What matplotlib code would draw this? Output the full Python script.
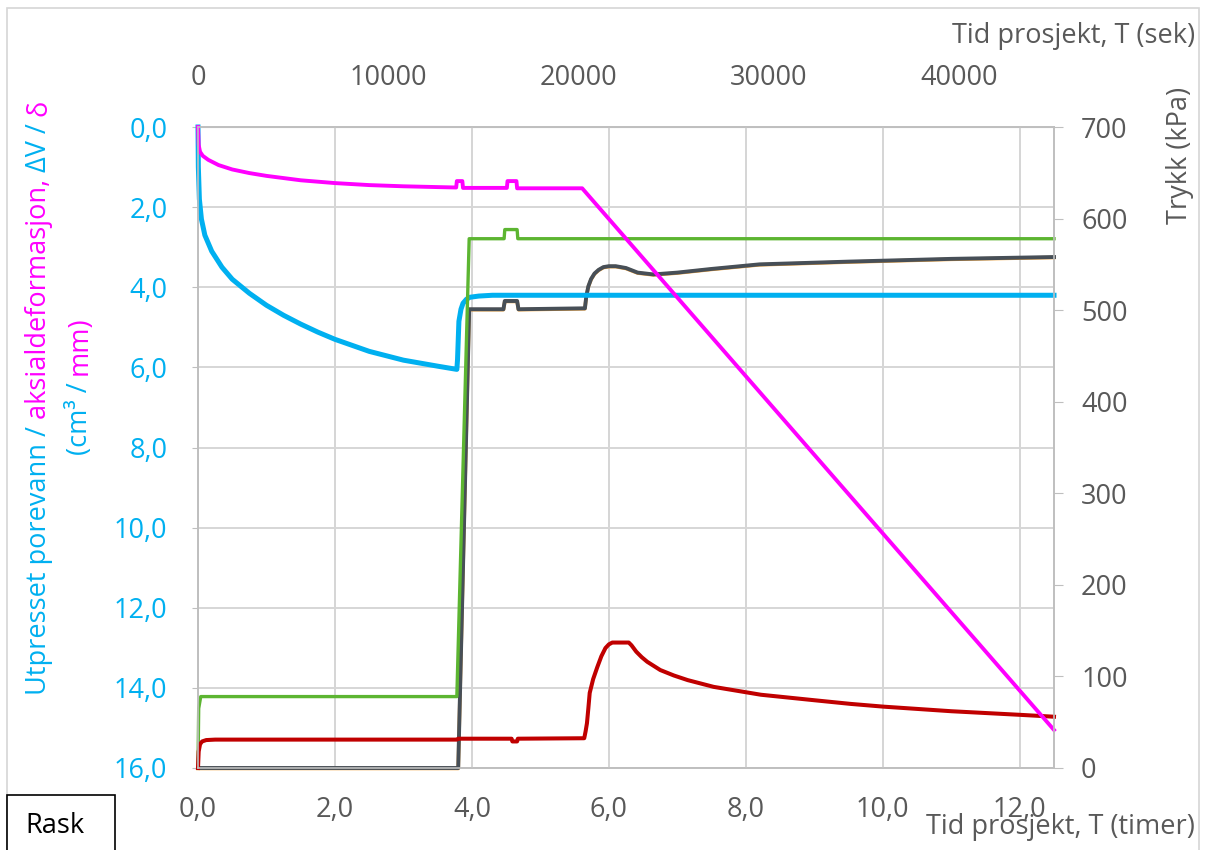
import matplotlib
matplotlib.use("Agg")
import matplotlib.pyplot as plt
from matplotlib.patches import Rectangle
from matplotlib.ticker import FuncFormatter
import numpy as np

plt.rcParams['font.family'] = ['Open Sans', 'DejaVu Sans']

# Utpresset porevann, dV (cm3) - venstre akse
cyan_t = [0, 0.005, 0.02, 0.05, 0.1, 0.2, 0.35, 0.5, 0.75, 1.0, 1.25, 1.5, 1.75, 2.0, 2.5, 3.0,
          3.5, 3.78, 3.79, 3.81, 3.84, 3.87, 3.92, 3.97, 4.1, 4.3, 12.5]
cyan_v = [0, 1.0, 1.8, 2.3, 2.7, 3.1, 3.5, 3.8, 4.15, 4.45, 4.7, 4.92, 5.12, 5.3, 5.6, 5.82,
          5.97, 6.05, 5.8, 4.85, 4.55, 4.4, 4.3, 4.25, 4.22, 4.2, 4.2]

# Aksialdeformasjon, delta (mm) - venstre akse
mag_t = [0, 0.01, 0.03, 0.07, 0.15, 0.3, 0.5, 0.75, 1.0, 1.5, 2.0, 2.5, 3.0, 3.5, 3.77,
         3.78, 3.86, 3.87, 4.51, 4.52, 4.65, 4.66, 5.61, 12.5]
mag_v = [0, 0.45, 0.62, 0.72, 0.82, 0.95, 1.06, 1.15, 1.22, 1.33, 1.40, 1.45, 1.48, 1.50, 1.51,
         1.35, 1.35, 1.52, 1.52, 1.35, 1.35, 1.53, 1.53, 15.05]

# Trykk (kPa) - hoyre akse
green_t = [0, 0.01, 0.04, 3.78, 3.96, 4.47, 4.48, 4.66, 4.67, 12.5]
green_v = [0, 65, 78, 78, 578, 578, 588, 588, 578, 578]

gray_t = [0, 3.80, 3.96, 4.46, 4.48, 4.66, 4.68, 5.65, 5.67, 5.70, 5.74, 5.79, 5.85, 5.92,
          6.0, 6.10, 6.25, 6.42, 6.65, 7.0, 7.5, 8.2, 9.5, 11.0, 12.5]
gray_v = [0, 0, 501, 501, 510, 510, 501, 502, 515, 526, 534, 540, 544, 547,
          548, 548, 546, 541, 539, 541, 545, 550, 553, 556, 558]

red_t = [0, 0.01, 0.03, 0.06, 0.12, 0.25, 3.78, 3.80, 4.58, 4.59, 4.66, 4.67, 5.64, 5.66,
         5.68, 5.70, 5.72, 5.77, 5.83, 5.89, 5.95, 6.0, 6.05, 6.29, 6.33, 6.40, 6.48, 6.56,
         6.75, 6.95, 7.15, 7.53, 8.22, 9.0, 9.53, 10.01, 11.0, 12.02, 12.5]
red_v = [0, 18, 26, 29, 30.5, 31, 31, 32, 32, 29, 29, 32, 32.5, 40,
         49, 65, 82, 97, 110, 122, 131, 135, 137, 137, 134, 127, 121, 116,
         107, 101, 96, 88.6, 80, 74, 70, 67, 62, 58, 56]

left_ticks = [0, 2, 4, 6, 8, 10, 12, 14, 16]
bottom_ticks = [0, 2, 4, 6, 8, 10, 12]
top_ticks = [0, 10000, 20000, 30000, 40000]
right_ticks = [0, 100, 200, 300, 400, 500, 600, 700]

CYAN = '#00B0F0'
MAG = '#FF00FF'
GREEN = '#5CB531'
DGRAY = '#474F57'
ORANGE = '#F2A33A'
RED = '#C00000'
TXT = '#595959'
GRID = '#D6D6D6'
SPINE = '#BFBFBF'
FS = 19.5

W, H = 1206, 850
fig = plt.figure(figsize=(W / 100, H / 100), dpi=100)


def fx(x):
    return x / W


def fy(y):
    return 1 - y / H


ax = fig.add_axes([fx(198), fy(768), (1054 - 198) / W, (768 - 127) / H])
ax.set_xlim(0, 12.5)
ax.set_ylim(16, 0)
ax.set_xticks(bottom_ticks)
ax.set_yticks(left_ticks)
comma = FuncFormatter(lambda v, p: f"{v:.1f}".replace('.', ','))
ax.xaxis.set_major_formatter(comma)
ax.yaxis.set_major_formatter(comma)
ax.grid(True, color=GRID, lw=1.4)
ax.set_axisbelow(True)
ax.tick_params(axis='y', labelcolor=CYAN, color=SPINE, length=4, pad=18, labelsize=FS)
ax.tick_params(axis='x', labelcolor=TXT, length=0, pad=20, labelsize=FS)
for s in ax.spines.values():
    s.set_color(SPINE)
    s.set_linewidth(1.2)

ax2 = ax.twinx()
ax2.set_ylim(0, 700)
ax2.set_yticks(right_ticks)
ax2.tick_params(axis='y', labelcolor=TXT, color=SPINE, length=6.5, pad=13, labelsize=FS)
for s in ax2.spines.values():
    s.set_color(SPINE)
    s.set_linewidth(1.2)

# vertikale rutenettlinjer (timer), tegnet som egne linjer
for t in bottom_ticks[1:]:
    ax2.plot([t, t], [right_ticks[0], right_ticks[-1]], color=GRID, lw=1.4, zorder=0.5,
             clip_on=False, solid_capstyle='butt')

secax = ax.secondary_xaxis('top', functions=(lambda h: np.asarray(h) * 3600, lambda s: np.asarray(s) / 3600))
secax.set_xticks(top_ticks)
secax.tick_params(length=0, pad=25, labelcolor=TXT, labelsize=FS)
secax.spines['top'].set_color(SPINE)

# linjer
ax2.plot(gray_t, np.array(gray_v) - 0.5, color=ORANGE, lw=2.6, clip_on=False, solid_joinstyle='round')
ax2.plot(gray_t, gray_v, color=DGRAY, lw=2.8, clip_on=False, solid_joinstyle='round')
ax2.plot(cyan_t, cyan_v, color=CYAN, lw=3.6, clip_on=False, transform=ax.transData,
         solid_joinstyle='round')
ax2.plot(green_t, green_v, color=GREEN, lw=2.4, clip_on=False, solid_joinstyle='round')
ax2.plot(red_t, red_v, color=RED, lw=2.9, clip_on=False, solid_joinstyle='round')
ax2.plot(mag_t, mag_v, color=MAG, lw=2.8, clip_on=False, transform=ax.transData,
         solid_joinstyle='round')
ax2.set_xlim(0, 12.5)
ax2.set_ylim(0, 700)

# tekster
fig.text(fx(1195), fy(43), "Tid prosjekt, T (sek)", color=TXT, fontsize=FS, ha='right', va='baseline')
fig.text(fx(1195), fy(834), "Tid prosjekt, T (timer)", color=TXT, fontsize=FS, ha='right', va='baseline')
fig.text(fx(1180), fy(155), "Trykk (kPa)", color=TXT, fontsize=FS, rotation=90,
         ha='center', va='center')

renderer = fig.canvas.get_renderer()


def vtext_pieces(x, y, pieces):
    prefix = ""
    for s, c in pieces:
        probe = fig.text(0, 0, prefix + "|", fontsize=FS)
        bar = fig.text(0, 0, "|", fontsize=FS)
        off = probe.get_window_extent(renderer).width - bar.get_window_extent(renderer).width
        probe.remove()
        bar.remove()
        fig.text(fx(x), fy(y - off), s, color=c, fontsize=FS, rotation=90,
                 rotation_mode='anchor', ha='left', va='baseline')
        prefix += s


vtext_pieces(46, 695, [("Utpresset porevann / ", CYAN), ("aksialdeformasjon, ", MAG),
                       ("ΔV / ", CYAN), ("δ", MAG)])
vtext_pieces(87, 455, [("(cm³ / ", CYAN), ("mm)", MAG)])

# ramme og "Rask"-boks
fig.patches.append(Rectangle((fx(7), fy(870)), (1199 - 7) / W, (870 - 8) / H,
                             transform=fig.transFigure, fill=False, edgecolor=GRID, lw=1.2))
fig.patches.append(Rectangle((fx(7), fy(860)), (115 - 7) / W, (860 - 795) / H,
                             transform=fig.transFigure, facecolor='white', edgecolor='black', lw=1.2))
fig.text(fx(55), fy(833), "Rask", color='black', fontsize=FS, ha='center', va='baseline')

fig.savefig("out.png", dpi=100)
